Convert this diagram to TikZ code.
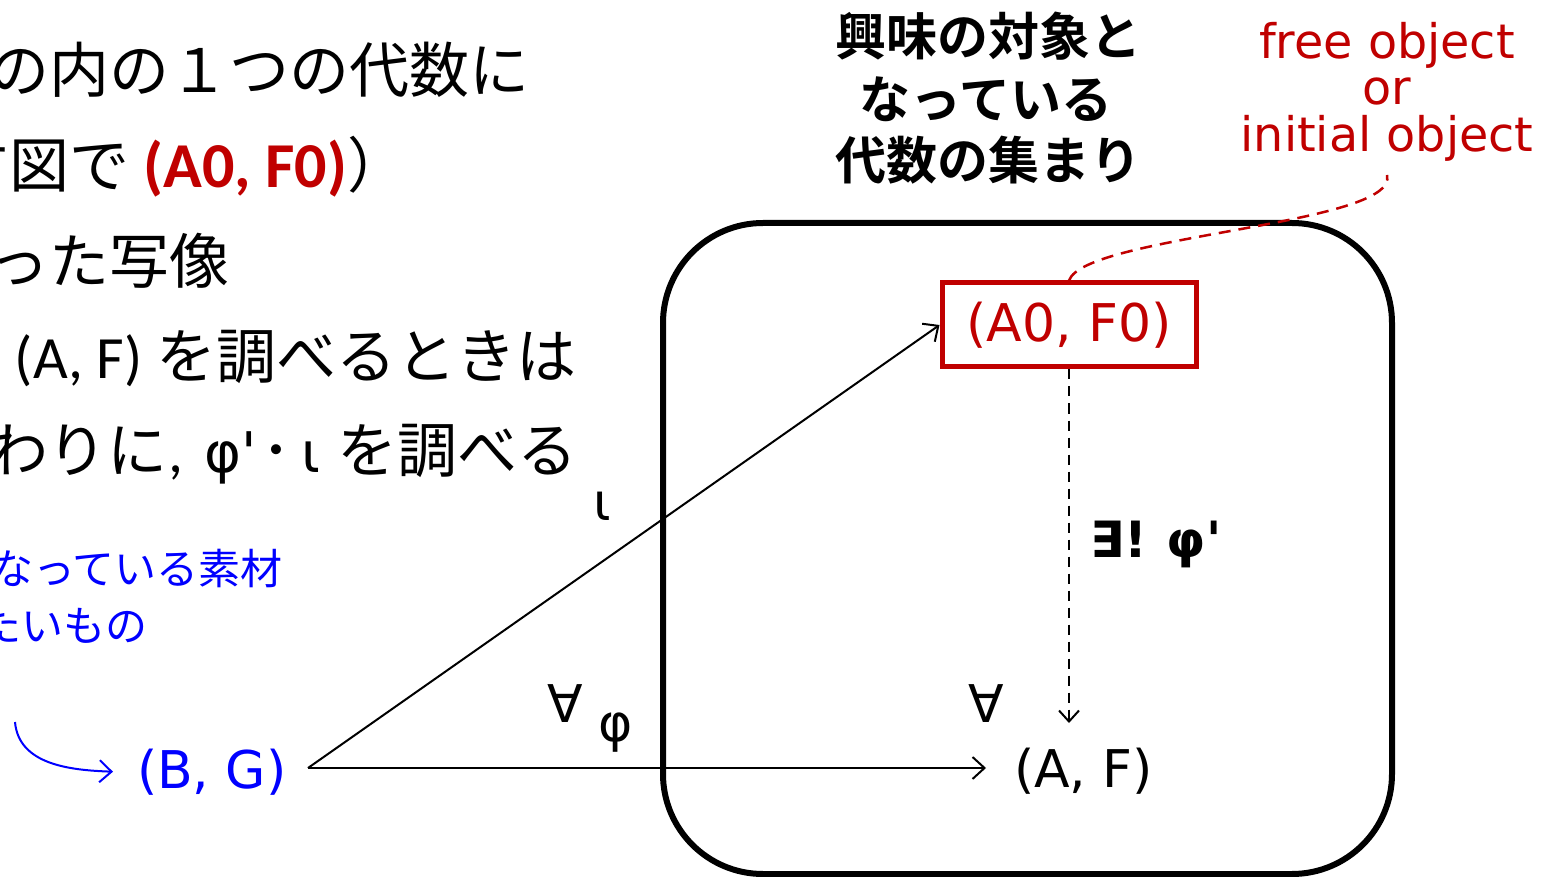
\documentclass[tikz,border=0pt]{standalone}
\usepackage{fontspec}
\usetikzlibrary{arrows.meta}
\newfontfamily\jpfont{Noto Sans CJK JP}[BoldFont={Noto Sans CJK JP Bold}]
\newfontfamily\dvfont{DejaVu Sans}[BoldFont={DejaVu Sans Bold}]
\newfontfamily\calfont{Carlito}
\definecolor{dred}{RGB}{192,0,0}
\definecolor{pblue}{RGB}{0,0,255}
\begin{document}
\begin{tikzpicture}[x=1pt,y=-1pt,
  every node/.style={inner sep=0pt, outer sep=0pt},
  jtext/.style={anchor=base west, font=\jpfont\fontsize{60}{60}\selectfont},
  btext/.style={anchor=base west, text=pblue, font=\jpfont\fontsize{42}{42}\selectfont},
  titletext/.style={anchor=base, font=\jpfont\bfseries\fontsize{51}{51}\selectfont},
  rlab/.style={anchor=base, text=dred, font=\dvfont\fontsize{47.6}{47.6}\selectfont},
  dvtext/.style={font=\dvfont\fontsize{52}{52}\selectfont},
  redbox/.style={draw=dred, line width=5pt, outer sep=2.5pt, text=dred,
    font=\dvfont\fontsize{52}{52}\selectfont, minimum width=254pt, minimum height=84pt},
  arr/.style={line width=2pt, -{Straight Barb[length=12pt,width=22pt,line width=2pt]}},
  darr/.style={line width=2pt, dash pattern=on 10pt off 7pt,
    -{Straight Barb[length=11pt,width=20pt,line width=2pt]}},
  rdash/.style={dred, line width=2.5pt, dash pattern=on 12pt off 8pt},
  barr/.style={pblue, line width=2pt, -{Straight Barb[length=12pt,width=22pt,line width=2pt]}},
]
\useasboundingbox (0,0) rectangle (1543,877);
\fill[white] (0,0) rectangle (1543,877);
\clip (0,0) rectangle (1543,877);

% big rounded region
\draw[line width=6pt, rounded corners=100pt] (663,223) rectangle (1392,874);

% left text
\node[jtext] (l1) at (-10,93) {の内の１つの代数に};
\node[jtext] (l2) at (-50,188) {す図で {\calfont\bfseries\fontsize{64}{64}\selectfont\color{dred}(A0, F0)}）};
\node[jtext] (l3) at (-10,284) {った写像};
\node[jtext] (l4) at (15,378) {{\calfont (A, F)} を調べるときは};
\node[jtext] (l5) at (-12,472) {わりに{\calfont ,}\hspace{22pt}{\dvfont\fontsize{56}{56}\selectfont φ'}\hspace{4pt}･\hspace{10pt}{\dvfont\fontsize{56}{56}\selectfont ι}\hspace{17pt}を調べる};
\node[btext] (b1) at (-9,584) {なっている素材};
\node[btext] (b2) at (-20,641) {たいもの};

% title
\node[titletext] (t1) at (988,56) {興味の対象と};
\node[titletext] (t2) at (986,119) {なっている};
\node[titletext] (t3) at (988,180) {代数の集まり};

% red label
\node[rlab] (r1) at (1387,59) {free object};
\node[rlab] (r2) at (1387,105) {or};
\node[rlab] (r3) at (1387,152) {initial object};
\coordinate (rc) at (1387,175);

% objects
\node[redbox] (A0) at (1069,325) {(A0, F0)};
\node[dvtext, anchor=base west] (AF) at (1014,787) {(A, F)};
\node[dvtext, anchor=base west, text=pblue] (BG) at (137,788) {(B, G)};
\coordinate (o) at (308,768);
\coordinate (dend) at (1069,723);
\coordinate (bs) at (15,722);

% labels
\node[dvtext] (fa1) at (565,704) {∀};
\node[dvtext] (phi) at (616,733) {φ};
\node[dvtext] (fa2) at (986,704) {∀};
\node[dvtext] (iota) at (602,506) {ι};
\node[anchor=base west, font=\dvfont\bfseries\fontsize{50}{50}\selectfont] (ex) at (1090,557) {∃!\hspace{20pt}φ'};

% connectors
\draw[arr, shorten >=28pt] (o) -- (o -| AF.west);
\draw[arr] (o) -- (A0.west);
\draw[darr] (A0.south) -- (dend);
\draw[rdash] (A0.north) .. controls (1085,235) and (1400,225) .. (rc);
\draw[barr] (bs) to[out=-85, in=178] ([xshift=-24pt]BG.west);
\end{tikzpicture}
\end{document}
